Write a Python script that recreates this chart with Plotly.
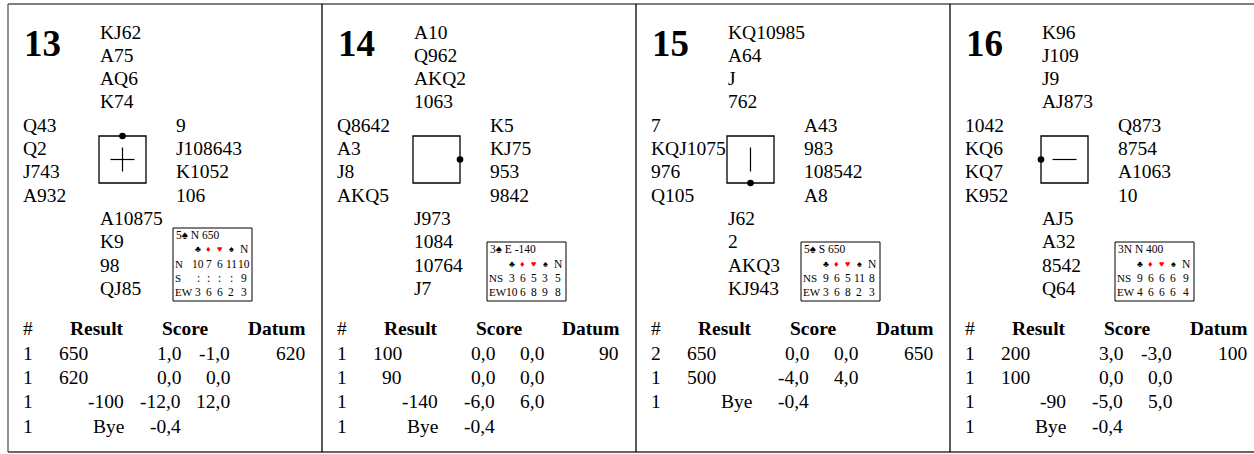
import plotly.graph_objects as go

# ---------------- data ----------------
boards = ["13", "14", "15", "16"]
north = [["KJ62", "A75", "AQ6", "K74"],
         ["A10", "Q962", "AKQ2", "1063"],
         ["KQ10985", "A64", "J", "762"],
         ["K96", "J109", "J9", "AJ873"]]
west = [["Q43", "Q2", "J743", "A932"],
        ["Q8642", "A3", "J8", "AKQ5"],
        ["7", "KQJ1075", "976", "Q105"],
        ["1042", "KQ6", "KQ7", "K952"]]
east = [["9", "J108643", "K1052", "106"],
        ["K5", "KJ75", "953", "9842"],
        ["A43", "983", "108542", "A8"],
        ["Q873", "8754", "A1063", "10"]]
south = [["A10875", "K9", "98", "QJ85"],
         ["J973", "1084", "10764", "J7"],
         ["J62", "2", "AKQ3", "KJ943"],
         ["AJ5", "A32", "8542", "Q64"]]
dealer = ["N", "E", "S", "W"]
vulnerable = ["Both", "None", "NS", "EW"]
par_text = ["5\u2660 N 650", "3\u2660 E -140", "5\u2660 S 650", "3N N 400"]
suit_labels = ["\u2663", "\u2666", "\u2665", "\u2660", "N"]
suit_colors = ["black", "red", "red", "black", "black"]
dd_labels = [["N", "S", "EW"], ["NS", "EW"], ["NS", "EW"], ["NS", "EW"]]
dd_values = [[["10", "7", "6", "11", "10"], [":", ":", ":", ":", "9"], ["3", "6", "6", "2", "3"]],
             [["3", "6", "5", "3", "5"], ["10", "6", "8", "9", "8"]],
             [["9", "6", "5", "11", "8"], ["3", "6", "8", "2", "3"]],
             [["9", "6", "6", "6", "9"], ["4", "6", "6", "6", "4"]]]
table_headers = ["#", "Result", "Score", "Datum"]
res_count = [["1", "1", "1", "1"], ["1", "1", "1", "1"], ["2", "1", "1"], ["1", "1", "1", "1"]]
res_value = [["650", "620", "-100", "Bye"], ["100", "90", "-140", "Bye"],
             ["650", "500", "Bye"], ["200", "100", "-90", "Bye"]]
score_ns = [["1,0", "0,0", "-12,0", "-0,4"], ["0,0", "0,0", "-6,0", "-0,4"],
            ["0,0", "-4,0", "-0,4"], ["3,0", "0,0", "-5,0", "-0,4"]]
score_ew = [["-1,0", "0,0", "12,0", ""], ["0,0", "0,0", "6,0", ""],
            ["0,0", "4,0", ""], ["-3,0", "0,0", "5,0", ""]]
datum = ["620", "90", "650", "100"]

# ---------------- layout constants ----------------
W, H = 1254, 454
FONT = "Liberation Serif, Times New Roman, serif"
PANEL_X0 = 8
PANEL_W = 314
TOP, BOTTOM = 4, 452
HAND_Y0, HAND_DY = 32, 23.3
BOX = (91, 136, 138, 183)
SMALL_BOX_X = (165, 244)
COL_X = [190, 200.5, 211.5, 223, 236]
TBL_HDR_Y, TBL_Y0, TBL_DY = 328, 353, 24.4
HAND_SIZE = 19.5

fig = go.Figure()
ann = []
shapes = []


def txt(x, y, s, size=HAND_SIZE, anchor="left", color="black", bold=False):
    if bold:
        s = "<b>" + s + "</b>"
    ann.append(dict(x=x, y=y, xref="x", yref="y", text=s, showarrow=False,
                    xanchor=anchor, yanchor="middle", borderpad=0, borderwidth=0,
                    font=dict(family=FONT, size=size, color=color)))


def line(x0, y0, x1, y1, color="black", width=1):
    shapes.append(dict(type="line", xref="x", yref="y", x0=x0, y0=y0, x1=x1, y1=y1,
                       line=dict(color=color, width=width)))


# frame
line(PANEL_X0, TOP, W + 20, TOP, color="#555", width=1.3)
line(PANEL_X0, BOTTOM, W + 20, BOTTOM, color="#333", width=1.3)
line(PANEL_X0, TOP, PANEL_X0, BOTTOM, color="#555", width=1.3)
for k in range(1, 4):
    xd = PANEL_X0 + k * PANEL_W
    line(xd, TOP, xd, BOTTOM, color="black", width=1.3)

for b in range(len(boards)):
    ox = PANEL_X0 + b * PANEL_W
    txt(ox + 16, 43, boards[b], size=37, bold=True)
    for i, s in enumerate(north[b]):
        txt(ox + 92, HAND_Y0 + HAND_DY * i, s)
    for i, s in enumerate(west[b]):
        txt(ox + 15, HAND_Y0 + HAND_DY * (4 + i), s)
    for i, s in enumerate(east[b]):
        txt(ox + 168, HAND_Y0 + HAND_DY * (4 + i), s)
    for i, s in enumerate(south[b]):
        txt(ox + 92, HAND_Y0 + HAND_DY * (8 + i), s)

    # compass box
    bx0, by0, bx1, by1 = BOX
    shapes.append(dict(type="rect", xref="x", yref="y", x0=ox + bx0, y0=by0, x1=ox + bx1, y1=by1,
                       line=dict(color="black", width=1.3)))
    cx, cy = ox + (bx0 + bx1) / 2, (by0 + by1) / 2
    v = vulnerable[b]
    if v in ("Both", "EW"):
        line(cx - 12, cy, cx + 12, cy, width=1.2)
    if v in ("Both", "NS"):
        line(cx, cy - 12, cx, cy + 12, width=1.2)
    dpos = {"N": (cx, by0), "E": (ox + bx1, cy), "S": (cx, by1), "W": (ox + bx0, cy)}[dealer[b]]
    r = 3.3
    shapes.append(dict(type="circle", xref="x", yref="y", x0=dpos[0] - r, x1=dpos[0] + r,
                       y0=dpos[1] - r, y1=dpos[1] + r, fillcolor="black", line=dict(width=0)))

    # double dummy box
    nrows = len(dd_labels[b])
    top_y = 228 if nrows == 3 else 242
    shapes.append(dict(type="rect", xref="x", yref="y", x0=ox + SMALL_BOX_X[0], x1=ox + SMALL_BOX_X[1],
                       y0=top_y, y1=301, line=dict(color="black", width=1), fillcolor="white", layer="below"))
    row_ys = [292 - 14.2 * k for k in range(nrows + 2)][::-1]
    txt(ox + 168, row_ys[0], par_text[b], size=11.5)
    for j, sl in enumerate(suit_labels):
        txt(ox + COL_X[j], row_ys[1], sl, size=9 if j < 4 else 11.5, anchor="center", color=suit_colors[j])
    for k, lab in enumerate(dd_labels[b]):
        yy = row_ys[2 + k]
        txt(ox + 167, yy, lab, size=11)
        for j, val in enumerate(dd_values[b][k]):
            txt(ox + COL_X[j], yy, val, size=11.5, anchor="center")

    # results table
    txt(ox + 15, TBL_HDR_Y, table_headers[0])
    txt(ox + 89, TBL_HDR_Y, table_headers[1], anchor="center", bold=True)
    txt(ox + 177, TBL_HDR_Y, table_headers[2], anchor="center", bold=True)
    txt(ox + 297, TBL_HDR_Y, table_headers[3], anchor="right", bold=True)
    for i in range(len(res_count[b])):
        yy = TBL_Y0 + TBL_DY * i
        txt(ox + 15, yy, res_count[b][i])
        rv = res_value[b][i]
        if rv.startswith("-") or rv == "Bye":
            txt(ox + 116, yy, rv, anchor="right")
        else:
            txt(ox + 80, yy, rv, anchor="right")
        txt(ox + 173, yy, score_ns[b][i], anchor="right")
        if score_ew[b][i]:
            txt(ox + 222, yy, score_ew[b][i], anchor="right")
        if i == 0:
            txt(ox + 297, yy, datum[b], anchor="right")

fig.update_layout(width=W, height=H, margin=dict(l=0, r=0, t=0, b=0),
                  paper_bgcolor="white", plot_bgcolor="white",
                  xaxis=dict(range=[0, W], visible=False, fixedrange=True),
                  yaxis=dict(range=[H, 0], visible=False, fixedrange=True),
                  annotations=ann, shapes=shapes, showlegend=False)
fig.write_html("out.html", config={"displayModeBar": False},
               post_script="document.body.style.margin='0';document.body.style.overflow='hidden';")
